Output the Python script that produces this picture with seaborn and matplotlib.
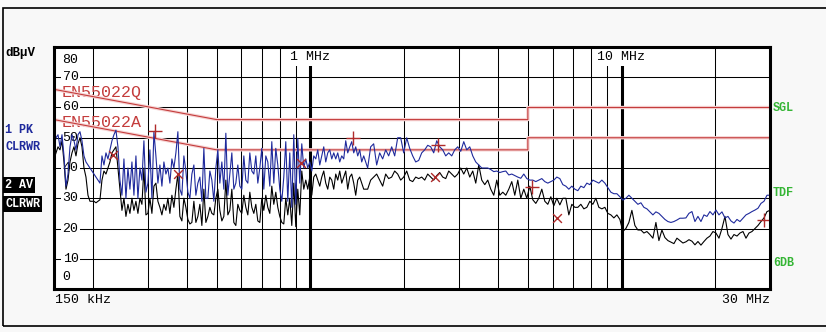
import numpy as np
import pandas as pd
import matplotlib
matplotlib.use("Agg")
import matplotlib.pyplot as plt
import matplotlib.transforms as mtransforms
from matplotlib.patches import Rectangle
import seaborn as sns

# ---------------- data ----------------
# Sweep 150 kHz .. ~1.48 MHz (fine steps): peak (PK) and average (AV) levels in dBuV
pk_lo = [47, 50, 51, 47, 51, 44, 34, 38, 47, 51, 49, 46, 51, 52, 49, 44, 42, 41, 40, 39,
         38, 37, 36, 35, 44, 41, 45, 43, 46, 49, 51, 52.5, 47, 36, 31, 43, 30, 40, 33, 42,
         31, 44, 30, 40, 36, 49, 32, 35, 46, 30, 52, 44, 35, 41, 34, 42, 38, 40, 35, 43,
         40, 45, 52, 33, 31, 44, 39, 32, 30, 38, 41, 31, 35, 37, 29, 46.5, 30, 30, 39, 36,
         29, 40, 46, 35, 42, 33, 51.5, 31, 38, 45, 33, 35, 41, 34, 33, 44, 36, 35, 45, 39,
         38, 44, 35, 40, 46.5, 33, 44, 42, 34, 48.7, 35, 46.5, 41, 33, 29, 37, 48.7, 29, 45, 27,
         51, 28, 49.8, 35, 48, 40, 43, 40, 42, 39, 44, 43, 46, 41, 44, 47, 42, 45, 46, 43,
         45, 43, 45, 42, 44, 43, 49, 45, 47, 48.7, 45, 47, 44, 46, 42, 44]
av_lo = [43, 45, 47, 46, 49, 42, 33, 36, 42, 45, 47, 44, 48, 50, 47, 40, 37, 31, 29, 29,
         29, 28.5, 29, 29.5, 36, 39, 38, 40, 42, 45, 46, 47, 40, 33, 26, 30, 24, 28, 25, 30,
         26, 29, 25, 30, 28, 40, 24.5, 25, 30, 25, 34, 35, 29, 27, 24.5, 28, 26, 30, 25, 31,
         27, 33, 38, 24, 22.5, 30, 27, 23, 21.5, 22, 29, 22, 24, 28, 21, 33, 22, 24, 27, 25,
         24.5, 30, 33, 26, 22.5, 24, 36, 24.5, 26, 33, 22, 21, 28, 26, 25, 31, 27, 24.5, 32, 27,
         25, 28, 22.5, 22, 30, 26, 31, 27, 25, 34, 28, 32, 27, 24, 22, 21.5, 30, 24.5, 30, 21,
         35, 20.6, 33, 24.5, 39, 33, 36, 33, 37, 31, 37, 38, 36, 34, 37, 39, 35, 33, 37, 36,
         33, 38, 36, 39, 35, 37, 39, 33, 37, 38, 35, 31, 36, 37, 35, 33]

# Sweep ~1.53 MHz .. 30 MHz (coarser steps)
pk_hi = [40, 47, 48, 41, 45, 43, 46, 44, 47, 44, 50, 50, 45, 50, 46.5, 44, 42, 42.5, 45, 46,
         47.5, 47, 45, 49, 47, 46, 44, 45, 44, 46, 47, 45.5,
         48.7, 46, 47, 44, 42, 41, 40, 40, 40, 39.5, 38.8, 39, 38.5, 38.8, 39, 37.7, 38, 37.5,
         37, 36.6, 38, 36.5, 36, 36, 35.5, 36, 36.5, 35.5, 35, 35.5, 36, 37, 36.5, 34.5,
         34, 33, 34, 33, 32.5, 34, 33.5, 35, 34.5, 36, 35.5, 35, 36, 35, 33.5, 32, 31.5, 31.5,
         30.5, 29.4, 30, 31, 30, 29, 28, 28.5, 27, 26.5, 25.5, 24.5, 25.5, 25, 24, 23,
         22.3, 22, 22.3, 22.8, 23.4, 23.4, 23.5, 25, 25.6, 22.3, 24, 22.3, 24.5, 24, 25.6, 24.5,
         26.1, 24.5, 25.5, 23.5, 24, 22.5, 21.8, 23, 22.3, 23.4, 24.5, 25, 25.6, 26.1, 26.7,
         28.3, 29, 31, 31]
av_hi = [33, 36, 37, 38, 36, 34, 38, 36.5, 37, 39, 38, 36, 37, 39, 36, 35.5, 37, 36.5, 37, 36,
         38, 37, 36, 37.5, 38.5, 37, 36.5, 39, 38, 37, 38, 40,
         38, 40, 37, 39, 35, 41, 36, 34.5, 36, 33, 31, 36, 31, 32, 31, 33, 35.5, 31,
         36, 30, 33, 30, 34, 29.5, 28.3, 30, 33, 29, 28, 30.5, 27.5, 30, 27.8, 30,
         30, 24.5, 28, 27, 27, 28, 26.5, 27, 29, 28, 30, 27, 26.5, 27, 25, 24.5, 23.5, 24.5,
         23, 19, 20, 22, 26, 21, 19.5, 19.5, 18.5, 19, 18, 16.8, 22, 16, 19.5, 17,
         16, 15.5, 15, 16.8, 16, 15.2, 15.6, 16.3, 15.8, 14.6, 15.7, 14.5, 15.7, 16.8, 17.5, 19,
         18.5, 16.8, 20, 24, 18, 16.5, 18, 17.5, 18.5, 19, 16.8, 18.5, 19, 20, 21,
         22.3, 23.5, 25.6, 26]

# EN55022 class B limit lines (QP and AV)
q_freq = [0.15, 0.5, 5.0, 5.0, 30.0]
q_level = [66, 56, 56, 60, 60]
a_freq = [0.15, 0.5, 5.0, 5.0, 30.0]
a_level = [56, 46, 46, 50, 50]

# final-measurement markers
plus_freq = [0.316, 1.368, 2.567, 5.147, 28.68]
plus_level = [52.2, 50.0, 47.6, 33.7, 22.8]
cross_freq = [0.2315, 0.3745, 0.931, 2.51, 6.19]
cross_level = [44.3, 38.0, 41.7, 37.0, 23.5]

y_tick_vals = [70, 60, 50, 40, 30, 20, 10]
major_x = [1, 10]
minor_x = [0.2, 0.3, 0.4, 0.5, 0.6, 0.7, 0.8, 0.9, 2, 3, 4, 5, 6, 7, 8, 9, 20]

# ---------------- build tables ----------------
f_lo = np.geomspace(0.15, 1.484, len(pk_lo))
f_hi = np.geomspace(1.528, 30.0, len(pk_hi))
freq = np.concatenate([f_lo, f_hi])
df_pk = pd.DataFrame({"freq": freq, "level": pk_lo + pk_hi})
df_av = pd.DataFrame({"freq": freq, "level": av_lo + av_hi})

# ---------------- figure ----------------
W, H = 826, 332
fig = plt.figure(figsize=(W / 100, H / 100), dpi=100, facecolor="#f8f8f8")
ax = fig.add_axes([54 / W, 43 / H, 716 / W, 242 / H])
ax.set_facecolor("white")
ax.set_xscale("log")
ax.set_xlim(0.15, 30)
ax.set_ylim(0, 80)
ax.set_xticks(major_x)
ax.set_xticks(minor_x, minor=True)
ax.set_yticks(y_tick_vals)
ax.tick_params(which="both", length=0, labelbottom=False, labelleft=False)
ax.grid(which="major", axis="x", color="black", lw=2.2)
ax.grid(which="minor", axis="x", color="black", lw=0.75)
ax.grid(which="major", axis="y", color="black", lw=0.75)
ax.set_axisbelow(True)
for s in ax.spines.values():
    s.set_linewidth(2.2)
    s.set_color("black")
    s.set_zorder(10)

mono = ["Liberation Mono", "DejaVu Sans Mono"]
red = "#c43c3c"

# limit lines (faint pink halo + red core)
for fx, lv in [(q_freq, q_level), (a_freq, a_level)]:
    sns.lineplot(x=fx, y=lv, ax=ax, color="#f6d4d4", lw=2.4, sort=False,
                 estimator=None, legend=False, zorder=4)
    sns.lineplot(x=fx, y=lv, ax=ax, color=red, lw=0.8, sort=False,
                 estimator=None, legend=False, zorder=5)

# traces
sns.lineplot(data=df_av, x="freq", y="level", ax=ax, color="black", lw=0.8,
             sort=False, estimator=None, legend=False, zorder=6)
sns.lineplot(data=df_pk, x="freq", y="level", ax=ax, color="#1f2a9c", lw=0.8,
             sort=False, estimator=None, legend=False, zorder=7)

# markers
sns.scatterplot(x=plus_freq, y=plus_level, ax=ax, marker="+", s=110, color="#b02a2a",
                linewidth=1.0, zorder=8, legend=False)
sns.scatterplot(x=cross_freq, y=cross_level, ax=ax, marker="x", s=40, color="#b02a2a",
                linewidth=1.0, zorder=8, legend=False)

# limit-line names (struck through by the lines)
trans_xa = mtransforms.blended_transform_factory(ax.transAxes, ax.transData)
ax.text(0.011, 64.8, "EN55022Q", transform=trans_xa, color=red, fontsize=12,
        family=mono, va="center", ha="left", zorder=3)
ax.text(0.011, 54.9, "EN55022A", transform=trans_xa, color=red, fontsize=12,
        family=mono, va="center", ha="left", zorder=3)

# y labels inside the grid
wbox = dict(facecolor="white", edgecolor="none", pad=1.0)
ax.text(0.012, 75.7, "80", transform=trans_xa, fontsize=9.5, family=mono,
        va="center", ha="left", zorder=3, bbox=wbox)
for v in y_tick_vals:
    ax.text(0.012, v, str(v), transform=trans_xa, fontsize=9.5, family=mono,
            va="center", ha="left", zorder=3, bbox=wbox)
ax.text(0.012, 4.0, "0", transform=trans_xa, fontsize=9.5, family=mono,
        va="center", ha="left", zorder=3, bbox=wbox)

# frequency labels at the top
ax.text((290 - 54) / 716, 0.957, "1 MHz", transform=ax.transAxes, fontsize=9.5,
        family=mono, va="center", ha="left", zorder=3,
        bbox=dict(facecolor="white", edgecolor="none", pad=2.0))
ax.text((597 - 54) / 716, 0.957, "10 MHz", transform=ax.transAxes, fontsize=9.5,
        family=mono, va="center", ha="left", zorder=3,
        bbox=dict(facecolor="white", edgecolor="none", pad=2.0))


def ftext(x, y, s, **kw):
    fig.text(x / W, 1 - y / H, s, va="center", ha="left", **kw)


ftext(5, 53, "dBµV", fontsize=9, family=mono, weight="bold", color="black")
ftext(5, 130, "1 PK", fontsize=8.5, family=mono, weight="bold", color="#1f2a9c")
ftext(5, 147, "CLRWR", fontsize=8.5, family=mono, weight="bold", color="#1f2a9c")
ftext(5, 185, "2 AV", fontsize=8.5, family=mono, weight="bold", color="white",
      bbox=dict(facecolor="black", edgecolor="none", pad=1.5))
ftext(5, 204, "CLRWR", fontsize=8.5, family=mono, weight="bold", color="white",
      bbox=dict(facecolor="black", edgecolor="none", pad=1.5))
green = "#35b535"
ftext(773, 108, "SGL", fontsize=8.5, family=mono, weight="bold", color=green)
ftext(773, 193, "TDF", fontsize=8.5, family=mono, weight="bold", color=green)
ftext(773, 263, "6DB", fontsize=8.5, family=mono, weight="bold", color=green)
ftext(55, 300, "150 kHz", fontsize=9.5, family=mono, color="black")
ftext(722, 300, "30 MHz", fontsize=9.5, family=mono, color="black")

# outer frame
fig.add_artist(Rectangle((3 / W, 6 / H), 1.0, (326 - 8) / H, transform=fig.transFigure,
                         fill=False, lw=1.2, ec="black"))

fig.savefig("out.png", dpi=100, facecolor=fig.get_facecolor())
